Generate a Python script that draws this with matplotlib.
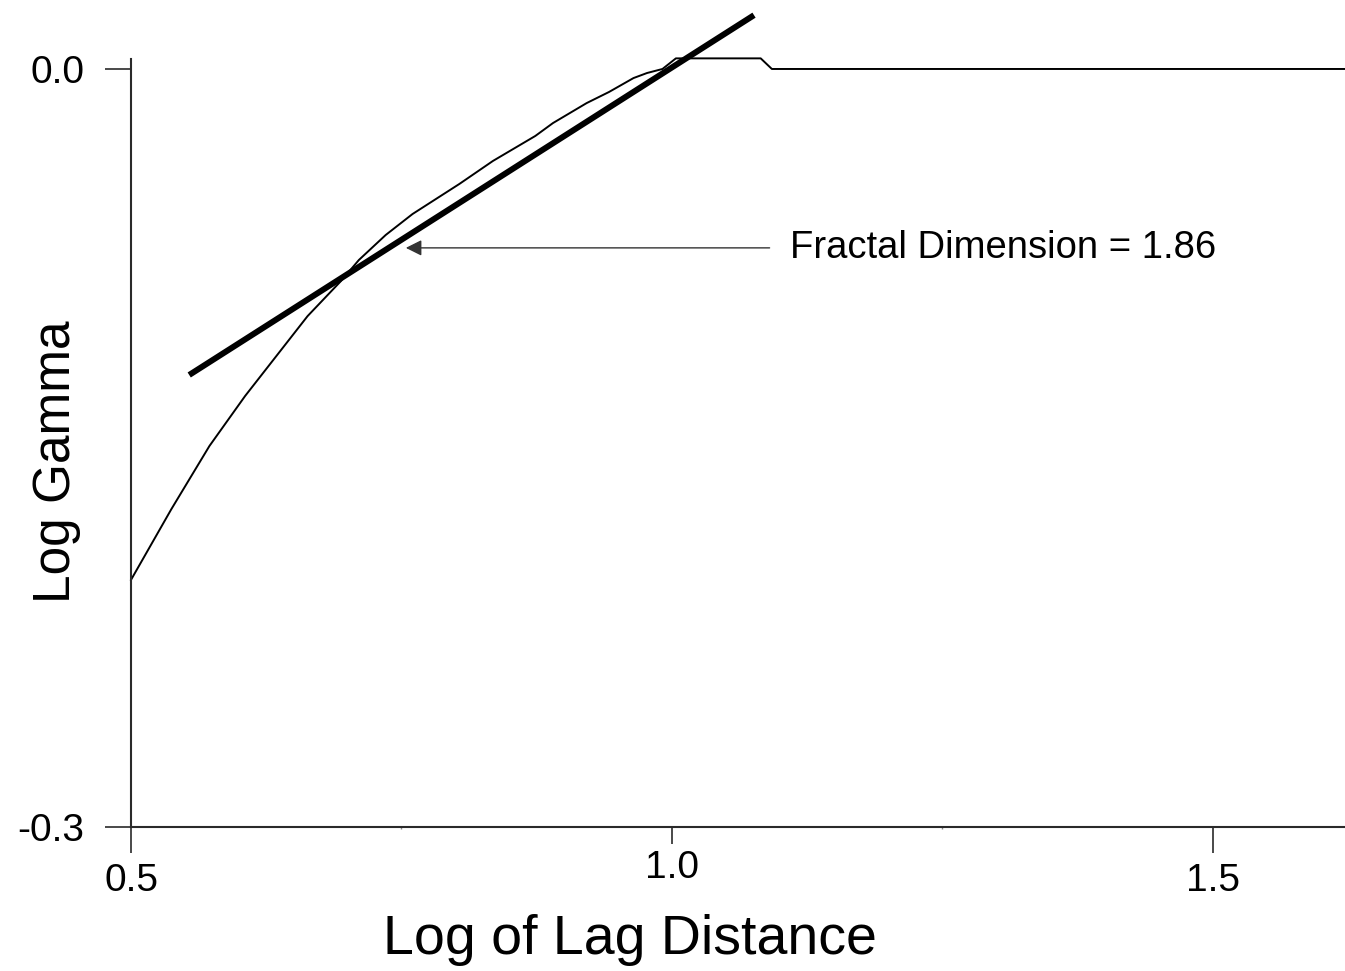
import numpy as np
import matplotlib
matplotlib.use('Agg')
import matplotlib.pyplot as plt

plt.rcParams['font.family'] = ['Liberation Sans', 'DejaVu Sans']

# log of lag distance vs log gamma
lag = [0.5, 0.5373, 0.5725, 0.6055, 0.6632, 0.6941, 0.7106, 0.7354, 0.7602,
       0.8035, 0.8345, 0.8737, 0.8900, 0.9211, 0.9418, 0.9644, 0.9769,
       0.9912, 1.0036, 1.0820, 1.0923, 1.622]
gamma = [-0.2022, -0.1742, -0.1492, -0.1294, -0.0978, -0.0839, -0.0756,
         -0.0657, -0.0574, -0.0455, -0.0364, -0.0265, -0.0214, -0.0135,
         -0.0091, -0.0036, -0.0016, 0.0, 0.0042, 0.0042, 0.0, 0.0]

# fitted line
fit_x = [0.5538, 1.0758]
fit_y = [-0.1211, 0.0213]

arrow_y = -0.0708
arrow_head = 0.754
arrow_tail = 1.0902
label = 'Fractal Dimension = 1.86'

xticks = [0.5, 1.5]
xticklabels = ['0.5', '1.5']
mid_tick = [1.0]
mid_label = ['1.0']
yticks = [-0.3, 0.0]
yticklabels = ['-0.3', '0.0']

W, H = 1345, 971
fig = plt.figure(figsize=(W / 100, H / 100), dpi=100)
ax = fig.add_axes([131 / W, 1 - 827 / H, 1 - 131 / W, 827 / H])
ax.set_xlim(0.5, 1.622)
ax.set_ylim(-0.3, 0.0273)

ax.plot(lag, gamma, color='black', lw=1.4, clip_on=False)
ax.plot(fit_x, fit_y, color='black', lw=4.3, solid_capstyle='butt', clip_on=False)

ax.annotate('', xy=(arrow_head, arrow_y), xytext=(arrow_tail, arrow_y),
            arrowprops=dict(arrowstyle='-|>', color='#333333', lw=1.0,
                            mutation_scale=24, shrinkA=0, shrinkB=0))
ax.text(1.109, arrow_y, label, fontsize=27.5, va='center', ha='left')

for s in ['top', 'right']:
    ax.spines[s].set_visible(False)
ax.spines['left'].set_bounds(-0.3, 0.004)
for s in ['left', 'bottom']:
    ax.spines[s].set_linewidth(1.5)
    ax.spines[s].set_color('#2a2a2a')

ax.set_yticks(yticks)
ax.set_yticklabels(yticklabels)
ax.set_xticks(xticks)
ax.set_xticklabels(xticklabels)
ax.set_xticks([0.75, 1.25], minor=True)
ax.tick_params(axis='both', which='major', direction='out', length=18.7,
               width=1.2, color='#2a2a2a', labelsize=28)
ax.tick_params(axis='x', which='minor', length=1.5, width=1, color='#888888')
ax.tick_params(axis='y', which='major', pad=15)
ax.tick_params(axis='x', which='major', pad=7)

# the 1.0 tick is shorter and its label sits higher
sec = ax.secondary_xaxis('bottom')
sec.spines['bottom'].set_visible(False)
sec.set_xticks(mid_tick)
sec.set_xticklabels(mid_label)
sec.tick_params(axis='x', direction='out', length=12.2, width=1.2,
                color='#2a2a2a', labelsize=28, pad=4)

fig.text(630 / W, 1 - 954 / H, 'Log of Lag Distance', fontsize=40,
         ha='center', va='baseline')
fig.text(70 / W, 1 - 462 / H, 'Log Gamma', fontsize=37, rotation=90,
         rotation_mode='anchor', ha='center', va='baseline')

fig.savefig('out.png', dpi=100)
